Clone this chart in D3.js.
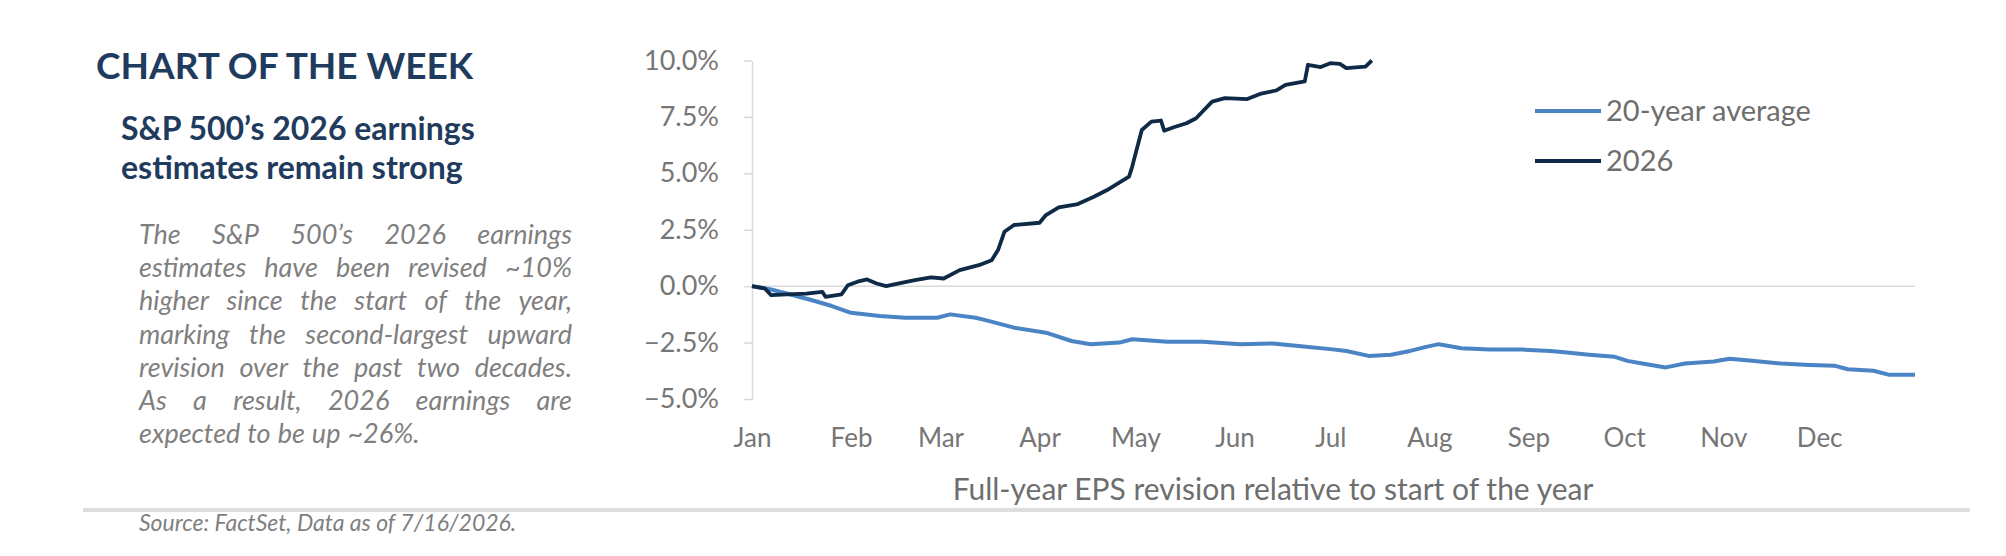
<!DOCTYPE html>
<head>
  <meta charset="utf-8">
  <style>
  body { margin: 0; background: #fff; }
  * { font-family: Lato, "Open Sans", sans-serif; }
  .axis path, .axis line { stroke: #d9d9d9; stroke-width: 1.5px; }
  .axis text { fill: #767676; }
  </style>
  <title>Chart of the week</title>
</head>
<body>
<script src="https://d3js.org/d3.v7.min.js"></script>
<script>
// 20-year average revision path (% vs start of year)
var avgDates = ["2026-01-01","2026-01-07","2026-01-13","2026-01-19","2026-01-26","2026-02-01",
  "2026-02-10","2026-02-18","2026-02-28","2026-03-04","2026-03-12","2026-03-16","2026-03-24",
  "2026-04-03","2026-04-11","2026-04-17","2026-04-26","2026-04-30","2026-05-11","2026-05-22",
  "2026-06-03","2026-06-13","2026-06-21","2026-07-01","2026-07-06","2026-07-13","2026-07-20",
  "2026-07-26","2026-07-31","2026-08-04","2026-08-11","2026-08-20","2026-08-30","2026-09-08",
  "2026-09-13","2026-09-20","2026-09-28","2026-10-02","2026-10-08","2026-10-14","2026-10-20",
  "2026-10-29","2026-11-03","2026-11-10","2026-11-19","2026-11-28","2026-12-06","2026-12-10",
  "2026-12-18","2026-12-23","2026-12-31"];
var avgValues = [0, -0.15, -0.37, -0.59, -0.88, -1.18,
  -1.32, -1.40, -1.40, -1.25, -1.40, -1.54, -1.84,
  -2.06, -2.43, -2.57, -2.50, -2.35, -2.46, -2.46,
  -2.57, -2.54, -2.65, -2.79, -2.87, -3.09, -3.04,
  -2.87, -2.69, -2.57, -2.75, -2.81, -2.81, -2.87,
  -2.94, -3.04, -3.13, -3.31, -3.46, -3.60, -3.43,
  -3.34, -3.22, -3.31, -3.43, -3.49, -3.53, -3.68,
  -3.75, -3.93, -3.93];

// 2026 revision path, data to mid July
var y26Dates = ["2026-01-01","2026-01-05","2026-01-07","2026-01-12","2026-01-18","2026-01-23",
  "2026-01-24","2026-01-29","2026-01-31","2026-02-03","2026-02-06","2026-02-09","2026-02-12",
  "2026-02-16","2026-02-21","2026-02-26","2026-03-02","2026-03-07","2026-03-13","2026-03-17",
  "2026-03-19","2026-03-21","2026-03-24","2026-04-01","2026-04-03","2026-04-07","2026-04-13",
  "2026-04-18","2026-04-22","2026-04-29","2026-04-30","2026-05-03","2026-05-06","2026-05-09",
  "2026-05-10","2026-05-13","2026-05-17","2026-05-20","2026-05-25","2026-05-29","2026-06-05",
  "2026-06-09","2026-06-14","2026-06-17","2026-06-23","2026-06-24","2026-06-28","2026-07-01",
  "2026-07-04","2026-07-06","2026-07-12","2026-07-14"];
var y26Values = [0, -0.10, -0.40, -0.36, -0.33, -0.25,
  -0.47, -0.36, 0.04, 0.20, 0.30, 0.12, 0.00,
  0.12, 0.27, 0.39, 0.34, 0.71, 0.93, 1.15,
  1.60, 2.41, 2.71, 2.81, 3.15, 3.49, 3.64,
  3.96, 4.25, 4.85, 5.30, 6.92, 7.29, 7.34,
  6.89, 7.04, 7.22, 7.44, 8.18, 8.33, 8.29,
  8.52, 8.67, 8.92, 9.07, 9.81, 9.71, 9.88,
  9.85, 9.66, 9.73, 10.00];

var yTicks = [-5, -2.5, 0, 2.5, 5, 7.5, 10];
var seriesNames = ["20-year average", "2026"];
var seriesColors = ["#4a84c4", "#0f2a47"];

var bodyLines = [
  "The S&P 500’s 2026 earnings",
  "estimates have been revised ~10%",
  "higher since the start of the year,",
  "marking the second-largest upward",
  "revision over the past two decades.",
  "As a result, 2026 earnings are",
  "expected to be up ~26%."
];

var parse = d3.timeParse("%Y-%m-%d");

var svg = d3.select("body").append("svg")
    .attr("width", 2006)
    .attr("height", 556);

// ---- left text panel ----
var navy = "#1f3b5e";
svg.append("text")
    .attr("x", 96).attr("y", 79)
    .attr("fill", navy)
    .style("font-size", "37px").style("font-weight", 700)
    .text("CHART OF THE WEEK");

svg.append("text")
    .attr("x", 121).attr("y", 140)
    .attr("fill", navy)
    .style("font-size", "32px").style("font-weight", 700)
    .text("S&P 500’s 2026 earnings");
svg.append("text")
    .attr("x", 121).attr("y", 179)
    .attr("fill", navy)
    .style("font-size", "32px").style("font-weight", 700)
    .text("estimates remain strong");

// justified italic paragraph
var para = svg.append("g")
    .style("font-size", "27px").style("font-style", "italic")
    .attr("fill", "#7f7f7f");
var paraLeft = 139, paraWidth = 433;
bodyLines.forEach(function(ln, i) {
  var words = ln.split(" ");
  var y = 244 + i * 33.2;
  var widths = words.map(function(w) {
    var t = para.append("text").text(w);
    var len = t.node().getComputedTextLength();
    t.remove();
    return len;
  });
  var total = d3.sum(widths);
  var last = i === bodyLines.length - 1;
  var gap = last ? 7 : (paraWidth - total) / (words.length - 1);
  var x = paraLeft;
  words.forEach(function(w, j) {
    para.append("text").attr("x", x).attr("y", y).text(w);
    x += widths[j] + gap;
  });
});

// separator + source
svg.append("line")
    .attr("x1", 83).attr("x2", 1970)
    .attr("y1", 510).attr("y2", 510)
    .attr("stroke", "#dedede").attr("stroke-width", 4);

svg.append("text")
    .attr("x", 139).attr("y", 531)
    .attr("fill", "#7f7f7f")
    .style("font-size", "23px").style("font-style", "italic")
    .text("Source: FactSet, Data as of 7/16/2026.");

// ---- chart ----
var x = d3.scaleTime()
    .domain([parse("2026-01-01"), parse("2026-12-31")])
    .range([752, 1915]);
var y = d3.scaleLinear()
    .domain([-5, 10])
    .range([399, 60.5]);

// zero line
svg.append("line")
    .attr("x1", x.range()[0]).attr("x2", x.range()[1])
    .attr("y1", y(0)).attr("y2", y(0))
    .attr("stroke", "#d9d9d9").attr("stroke-width", 1.5);

var yAxis = svg.append("g")
    .attr("class", "axis")
    .attr("transform", "translate(752,0)")
    .call(d3.axisLeft(y)
        .tickValues(yTicks)
        .tickSize(8).tickSizeOuter(0).tickPadding(25)
        .tickFormat(function(d) { return d3.format(".1f")(d) + "%"; }));
yAxis.selectAll("text").style("font-size", "27px");

var xAxis = svg.append("g")
    .attr("class", "axis")
    .attr("transform", "translate(0,429)")
    .call(d3.axisBottom(x)
        .ticks(d3.timeMonth.every(1))
        .tickSize(0).tickPadding(0)
        .tickFormat(d3.timeFormat("%b")));
xAxis.select(".domain").remove();
xAxis.selectAll("text").style("font-size", "26px");

svg.append("text")
    .attr("x", 1273).attr("y", 500)
    .attr("text-anchor", "middle")
    .attr("fill", "#6e6e6e")
    .style("font-size", "30px")
    .text("Full-year EPS revision relative to start of the year");

var line = d3.line()
    .x(function(d) { return x(d[0]); })
    .y(function(d) { return y(d[1]); });

var avgData = avgDates.map(function(d, i) { return [parse(d), avgValues[i]]; });
var y26Data = y26Dates.map(function(d, i) { return [parse(d), y26Values[i]]; });

svg.append("path")
    .datum(avgData)
    .attr("fill", "none")
    .attr("stroke", seriesColors[0])
    .attr("stroke-width", 4)
    .attr("stroke-linejoin", "round")
    .attr("d", line);

svg.append("path")
    .datum(y26Data)
    .attr("fill", "none")
    .attr("stroke", seriesColors[1])
    .attr("stroke-width", 3.8)
    .attr("stroke-linejoin", "round")
    .attr("d", line);

// legend
var legend = svg.append("g")
    .selectAll("g")
    .data(seriesNames)
    .enter().append("g")
      .attr("transform", function(d, i) { return "translate(1535," + (111 + i * 50) + ")"; });
legend.append("line")
    .attr("x1", 0).attr("x2", 66)
    .attr("stroke", function(d, i) { return seriesColors[i]; })
    .attr("stroke-width", 4);
legend.append("text")
    .attr("x", 71).attr("dy", "0.35em")
    .attr("fill", "#6e6e6e")
    .style("font-size", "29px")
    .text(function(d) { return d; });
</script>
</body>
